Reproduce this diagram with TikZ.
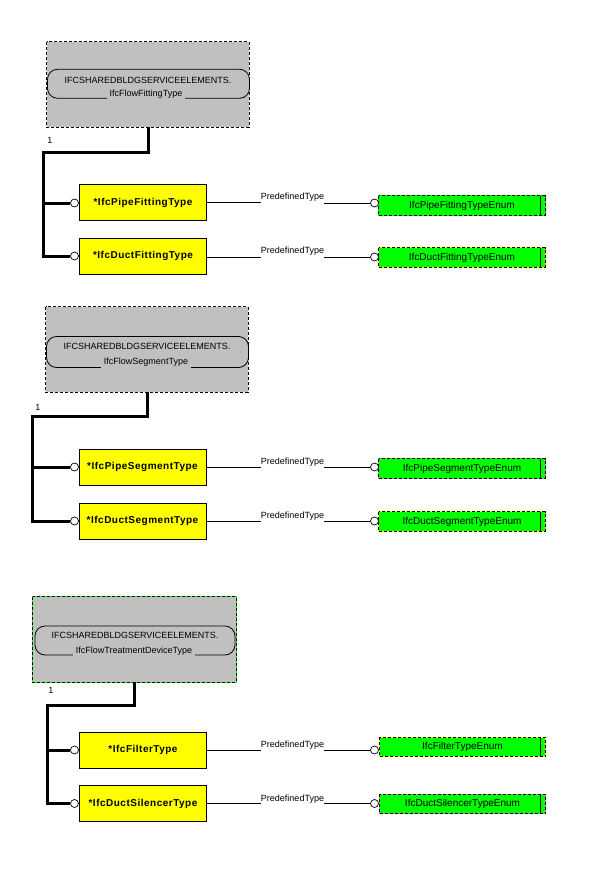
\documentclass[tikz,border=0pt]{standalone}
\usepackage{fontspec}
\setmainfont{Liberation Sans}
\definecolor{boxgray}{HTML}{C0C0C0}
\definecolor{enumgreen}{HTML}{00FF00}
\definecolor{typeyellow}{HTML}{FFFF00}
\definecolor{undergray}{HTML}{A0A0A0}
\tikzset{
  graybox/.style={fill=boxgray, draw=none, minimum width=202pt, minimum height=85pt, inner sep=0pt},
  capsule/.style={draw=black, line width=0.8pt, rounded corners=10pt, minimum width=202pt, inner sep=0pt},
  capline/.style={font=\fontsize{9}{10}\selectfont, inner sep=0pt},
  capname/.style={font=\fontsize{9}{10}\selectfont, fill=boxgray, inner xsep=2.5pt, inner ysep=2pt, anchor=base},
  trunk/.style={line width=3pt},
  onelabel/.style={font=\fontsize{9}{10}\selectfont, inner sep=0pt},
  typebox/.style={draw=black, line width=0.8pt, fill=typeyellow, minimum width=127pt, minimum height=36pt, inner sep=0pt,
    font=\fontsize{10}{12}\bfseries\addfontfeature{LetterSpace=5}},
  knob/.style={circle, draw=black, line width=0.7pt, fill=white, minimum size=8pt, inner sep=0pt},
  enumbox/.style={fill=enumgreen, draw=none, minimum width=166pt, minimum height=19pt, inner sep=0pt,
    font=\fontsize{10}{12}\selectfont},
  reltext/.style={font=\fontsize{9}{10}\selectfont, inner sep=0pt},
  relline/.style={line width=0.8pt},
}
\newcommand{\mygbox}[5]{%
  \node[enumbox] (#1) at (#2,#3) {#4};
  \draw[#5, line width=0.8pt] (#1.north west) rectangle (#1.south east);
  \draw[black, dashed, dash pattern=on 3pt off 2pt, line width=0.8pt] (#1.north west) rectangle (#1.south east);
  \draw[black, line width=0.8pt] ([xshift=-5pt]#1.north east) -- ([xshift=-5pt]#1.south east);
}
\begin{document}
\begin{tikzpicture}[x=1pt,y=-1pt]
\useasboundingbox[fill=white] (0,0) rectangle (600,888);

% ================= Section 1 =================
\node[graybox] (g1) at (148,84.5) {};
\draw[black, dashed, dash pattern=on 3pt off 2pt, line width=0.8pt] (g1.north west) rectangle (g1.south east);
\node[capsule, minimum height=29pt] (cap1) at (148.5,83.8) {};
\node[capline] (cap1a) at (148,80) {IFCSHAREDBLDGSERVICEELEMENTS.};
\node[capname] (cap1b) at (146,96.5) {IfcFlowFittingType};

\coordinate (t1) at (43.5,152);
\node[onelabel] (one1) at (50,140) {1};
\node[knob] (k11) at (74.5,203) {};
\node[knob] (k12) at (74.5,256) {};
\node[typebox] (y11) at (143,202.5) {*IfcPipeFittingType};
\node[typebox] (y12) at (143,256) {*IfcDuctFittingType};
\draw[trunk] (g1.south) |- (t1) |- (k12.west);
\draw[trunk] (t1) |- (k11.west);

\node[reltext] (r11) at (292.5,197.5) {PredefinedType};
\node[reltext] (r12) at (292.5,251.5) {PredefinedType};
\mygbox{e11}{462}{205.5}{IfcPipeFittingTypeEnum}{enumgreen}
\mygbox{e12}{462}{257.5}{IfcDuctFittingTypeEnum}{typeyellow}
\node[knob] (ek11) at (374.5,203) {};
\node[knob] (ek12) at (374.5,257) {};
\draw[relline] (y11.east) -- (y11.east -| r11.west);
\draw[relline] (r11.east |- ek11.west) -- (ek11.west);
\draw[relline] (y12.east |- ek12.west) -- (r12.west |- ek12.west);
\draw[relline] (r12.east |- ek12.west) -- (ek12.west);

% ================= Section 2 =================
\node[graybox] (g2) at (147,349.5) {};
\draw[black, dashed, dash pattern=on 3pt off 2pt, line width=0.8pt] (g2.north west) rectangle (g2.south east);
\node[capsule, minimum height=31pt] (cap2) at (147.5,352) {};
\node[capline] (cap2a) at (147,346) {IFCSHAREDBLDGSERVICEELEMENTS.};
\node[capname] (cap2b) at (146,364.5) {IfcFlowSegmentType};

\coordinate (t2) at (32.5,416);
\node[onelabel] (one2) at (38,407) {1};
\node[knob] (k21) at (74.5,467) {};
\node[knob] (k22) at (74.5,521) {};
\node[typebox] (y21) at (142.5,467) {*IfcPipeSegmentType};
\node[typebox] (y22) at (142.5,521) {*IfcDuctSegmentType};
\draw[trunk] (g2.south) |- (t2) |- (k22.west);
\draw[trunk] (t2) |- (k21.west);

\node[reltext] (r21) at (292.5,462.5) {PredefinedType};
\node[reltext] (r22) at (292.5,516.5) {PredefinedType};
\mygbox{e21}{462}{468.5}{IfcPipeSegmentTypeEnum}{undergray}
\mygbox{e22}{462}{521.5}{IfcDuctSegmentTypeEnum}{typeyellow}
\node[knob] (ek21) at (374.5,467) {};
\node[knob] (ek22) at (374.5,521) {};
\draw[relline] (y21.east) -- (y21.east -| r21.west);
\draw[relline] (r21.east |- ek21.west) -- (ek21.west);
\draw[relline] (y22.east) -- (y22.east -| r22.west);
\draw[relline] (r22.east |- ek22.west) -- (ek22.west);

% ================= Section 3 =================
\node[graybox, minimum width=203pt] (g3) at (134.5,639.5) {};
\draw[enumgreen, line width=0.8pt] (g3.north west) rectangle (g3.south east);
\draw[black, dashed, dash pattern=on 3pt off 2pt, line width=0.8pt] (g3.north west) rectangle (g3.south east);
\node[capsule, minimum height=29pt, minimum width=200pt] (cap3) at (135,640.5) {};
\node[capline] (cap3a) at (135,635) {IFCSHAREDBLDGSERVICEELEMENTS.};
\node[capname] (cap3b) at (134,653) {IfcFlowTreatmentDeviceType};

\coordinate (t3) at (47,705);
\node[onelabel] (one3) at (51,690.5) {1};
\node[knob] (k31) at (74.5,750) {};
\node[knob] (k32) at (74.5,803.5) {};
\node[typebox] (y31) at (143,750) {*IfcFilterType};
\node[typebox] (y32) at (143,803.5) {*IfcDuctSilencerType};
\draw[trunk] (g3.south) |- (t3) |- (k32.west);
\draw[trunk] (t3) |- (k31.west);

\node[reltext] (r31) at (292.5,745.5) {PredefinedType};
\node[reltext] (r32) at (292.5,799) {PredefinedType};
\mygbox{e31}{462.5}{747}{IfcFilterTypeEnum}{typeyellow}
\mygbox{e32}{462.5}{804}{IfcDuctSilencerTypeEnum}{undergray}
\node[knob] (ek31) at (374.5,750) {};
\node[knob] (ek32) at (374.5,803.5) {};
\draw[relline] (y31.east) -- (y31.east -| r31.west);
\draw[relline] (r31.east |- ek31.west) -- (ek31.west);
\draw[relline] (y32.east) -- (y32.east -| r32.west);
\draw[relline] (r32.east |- ek32.west) -- (ek32.west);
\end{tikzpicture}
\end{document}
